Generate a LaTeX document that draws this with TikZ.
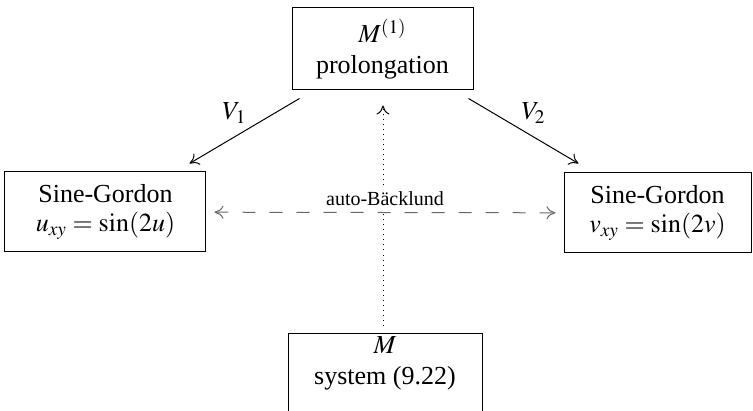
\documentclass[tikz,border=0pt]{standalone}
\usepackage{mathptmx}
\usepackage{fontspec}
\setmainfont{Liberation Serif}
\usepackage{tikz}
\usetikzlibrary{positioning,arrows.meta}

\begin{document}
\begin{tikzpicture}[
        font=\fontsize{13}{14.5}\selectfont,
        line width=0.5pt,
        >={To[length=4.5pt, width=6.5pt]},
        box/.style={draw, align=center, minimum height=40pt, inner sep=2pt},
        map/.style={->},
        backlund/.style={<->, gray!80!black, dash pattern=on 6.5pt off 7pt, shorten <=4pt, shorten >=4pt},
        lift/.style={->, dotted, shorten <=3.5pt, shorten >=7.5pt}
    ]
        \clip (-191.25pt,24.5pt) rectangle (185.25pt,-181pt);

        % Nodes
        \node[box, minimum width=90.5pt, minimum height=41pt] (prol) {$M^{(1)}$\\[1pt]prolongation};
        \node[box, minimum width=100.5pt, below left=40.5pt and 42.5pt of prol] (sgu) {Sine-Gordon\\$u_{xy}=\sin(2u)$};
        \node[box, minimum width=93.5pt, below right=41pt and 45pt of prol] (sgv) {Sine-Gordon\\$v_{xy}=\sin(2v)$};
        \node[box, minimum width=97pt, below=121pt of prol, xshift=1.25pt] (sys) {$M$\\[1pt]system (9.22)\\[-2pt]\strut};

        % Edges
        \draw[map] ([shift={(4pt,-4pt)}]prol.south west) -- ([shift={(-8.5pt,4pt)}]sgu.north east)
            node[midway, above, xshift=-5pt] {$V_1$};
        \draw[map] ([shift={(-2.5pt,-4pt)}]prol.south east) -- ([shift={(7.5pt,4.5pt)}]sgv.north west)
            node[midway, above, xshift=5pt] {$V_2$};
        \draw[lift] (sys.north -| 0.25pt,0) -- (prol.south -| 0.25pt,0);
        \draw[backlund] (sgu) -- (sgv)
            node[midway, above=1pt, fill=white, inner sep=2pt, text=black, font=\fontsize{10}{12}\selectfont] {auto-Bäcklund};
    \end{tikzpicture}
\end{document}
